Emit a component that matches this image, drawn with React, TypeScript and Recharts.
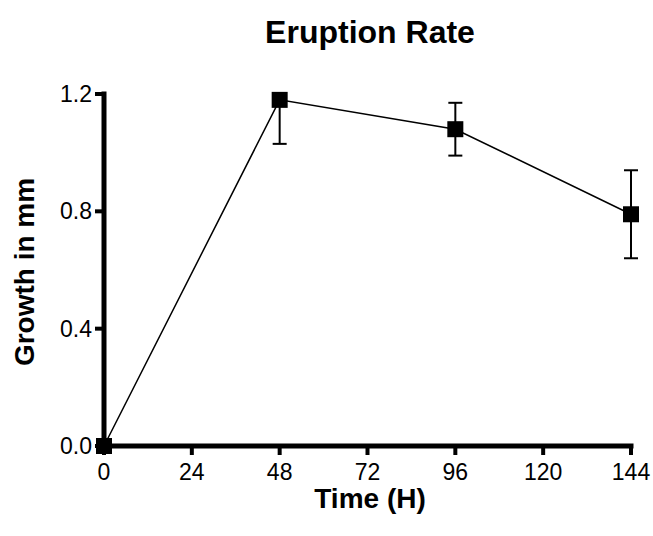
import { LineChart, Line, XAxis, YAxis, ErrorBar } from 'recharts'

const times = [0, 48, 96, 144]
const growth = [0, 1.18, 1.08, 0.79]
const errLow = [0, 0.15, 0.09, 0.15]
const errHigh = [0, 0, 0.09, 0.15]
const xTicks = [0, 24, 48, 72, 96, 120, 144]
const yTicks = [0, 0.4, 0.8, 1.2]

const FONT = '"Liberation Sans", Arial, sans-serif'
const TICK_SIZE = 23

const data = times.map((t, i) => ({
  time: t,
  growth: growth[i],
  err: [errLow[i], errHigh[i]],
}))

function SquareDot(props: any) {
  const { cx, cy } = props
  if (cx == null || cy == null) return null
  return <rect x={cx - 8} y={cy - 8} width={16} height={16} fill="#000" />
}

function XTick(props: any) {
  const { x, y, payload } = props
  return (
    <text x={x} y={y} dy="0.71em" textAnchor="middle" fontSize={TICK_SIZE} fontFamily={FONT} fill="#000">
      {payload.value}
    </text>
  )
}

function YTick(props: any) {
  const { x, y, payload } = props
  return (
    <text x={x} y={y} dy="0.355em" textAnchor="end" fontSize={TICK_SIZE} fontFamily={FONT} fill="#000">
      {Number(payload.value).toFixed(1)}
    </text>
  )
}

export default function App() {
  const axisLine = { stroke: '#000', strokeWidth: 5, strokeLinecap: 'square' as const }
  const tickLine = { stroke: '#000', strokeWidth: 4 }
  return (
    <div style={{ position: 'absolute', left: 0, top: 0, width: 653, height: 536, background: '#fff', fontFamily: FONT }}>
      <div
        style={{
          position: 'absolute',
          left: 0,
          width: 740,
          top: 14,
          textAlign: 'center',
          fontSize: 32,
          fontWeight: 'bold',
          lineHeight: '36px',
        }}
      >
        Eruption Rate
      </div>
      <div
        style={{
          position: 'absolute',
          left: 25,
          top: 272,
          transform: 'translate(-50%, -50%) rotate(-90deg)',
          whiteSpace: 'nowrap',
          fontSize: 28,
          fontWeight: 'bold',
          lineHeight: '32px',
        }}
      >
        Growth in mm
      </div>
      <div
        style={{
          position: 'absolute',
          left: 0,
          width: 740,
          top: 486,
          textAlign: 'center',
          fontSize: 28,
          fontWeight: 'bold',
          lineHeight: '26px',
        }}
      >
        Time (H)
      </div>
      <LineChart width={653} height={536} data={data} margin={{ top: 94, right: 22, bottom: 50, left: 44 }}>
        <XAxis
          dataKey="time"
          type="number"
          domain={[0, 144]}
          ticks={xTicks}
          axisLine={axisLine}
          tickLine={tickLine}
          tickSize={9}
          tickMargin={9}
          height={40}
          tick={<XTick />}
        />
        <YAxis
          type="number"
          domain={[0, 1.2]}
          ticks={yTicks}
          axisLine={axisLine}
          tickLine={tickLine}
          tickSize={9}
          tickMargin={3}
          width={60}
          tick={<YTick />}
        />
        <Line
          dataKey="growth"
          type="linear"
          stroke="#000"
          strokeWidth={1.5}
          dot={<SquareDot />}
          activeDot={false}
          isAnimationActive={false}
        >
          <ErrorBar dataKey="err" direction="y" width={7} stroke="#000" strokeWidth={2} isAnimationActive={false} />
        </Line>
      </LineChart>
    </div>
  )
}
